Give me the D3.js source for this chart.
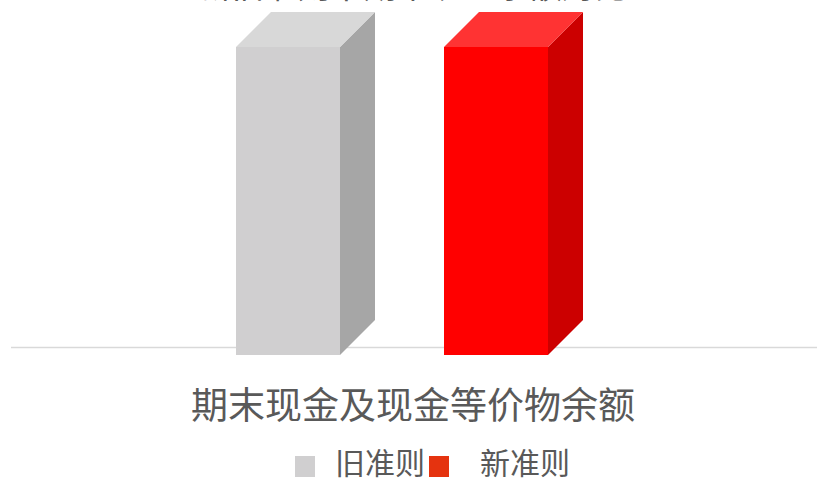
<!DOCTYPE html>
<html><head><meta charset="utf-8">
<script src="https://cdnjs.cloudflare.com/ajax/libs/d3/7.8.5/d3.min.js"></script>
<style>
html,body{margin:0;padding:0;background:#fff;}
svg{display:block;font-family:"Noto Sans CJK SC","Microsoft YaHei",sans-serif;}
</style></head>
<body>
<svg id="c" width="817" height="480"></svg>
<script>
const title = "新旧准则下期末现金余额对比";
const category = "期末现金及现金等价物余额";
const seriesNames = ["旧准则", "新准则"];
const seriesValues = [100, 100];
const frontColors = ["#d0cfd0", "#ff0000"];
const topColors = ["#d8d8d8", "#ff3333"];
const sideColors = ["#a6a6a6", "#cc0000"];
const legendColors = ["#d0cfd0", "#e5330f"];

const svg = d3.select("#c");
const depth = 35;
const x = d3.scaleBand().domain(seriesNames).range([184, 600]).paddingInner(0.5).paddingOuter(0.25);
const y = d3.scaleLinear().domain([0, 100]).range([355, 47]);

// title (cut off at top)
svg.append("text").attr("x", 413).attr("y", -2).attr("text-anchor", "middle")
  .attr("font-size", 33).attr("fill", "#595959").text(title);

// floor/axis line
svg.append("line").attr("x1", 11).attr("x2", 817).attr("y1", 347.5).attr("y2", 347.5)
  .attr("stroke", "#d9d9d9").attr("stroke-width", 1.5);

const g = svg.append("g");
seriesNames.forEach((name, i) => {
  const x0 = x(name), w = x.bandwidth();
  const yt = y(seriesValues[i]), yb = y(0);
  g.append("path").attr("fill", sideColors[i])
    .attr("d", `M${x0 + w},${yt}L${x0 + w + depth},${yt - depth}L${x0 + w + depth},${yb - depth}L${x0 + w},${yb}Z`);
  g.append("path").attr("fill", topColors[i])
    .attr("d", `M${x0},${yt}L${x0 + depth},${yt - depth}L${x0 + w + depth},${yt - depth}L${x0 + w},${yt}Z`);
  g.append("rect").attr("x", x0).attr("y", yt).attr("width", w).attr("height", yb - yt).attr("fill", frontColors[i]);
});

// category label
svg.append("text").attr("x", 413).attr("y", 419).attr("text-anchor", "middle")
  .attr("font-size", 37).attr("fill", "#595959").text(category);

// legend
const legendX = [295, 429];
const legendTextX = [335, 480];
seriesNames.forEach((name, i) => {
  svg.append("rect").attr("x", legendX[i]).attr("y", 456).attr("width", 20).attr("height", 21).attr("fill", legendColors[i]);
  svg.append("text").attr("x", legendTextX[i]).attr("y", 474).attr("font-size", 30)
    .attr("fill", "#595959").text(name);
});
</script>
</body></html>
